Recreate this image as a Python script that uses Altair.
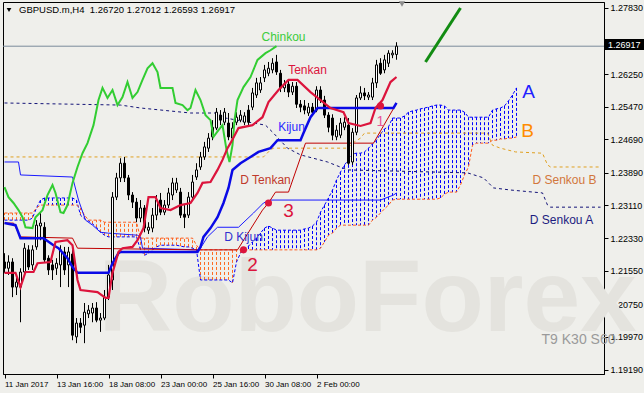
import altair as alt
import pandas as pd

# ---------------- candles (H4 bars, index 0..98) ----------------
opens = [1.2176,1.2161,1.2176,1.2116,1.2116,1.2152,1.2205,1.2169,1.2212,1.2262,
         1.2259,1.2185,1.2169,1.2161,1.2169,1.2200,1.2169,1.2195,1.1997,1.2030,
         1.2025,1.2052,1.2054,1.2066,1.2037,1.2042,1.2092,1.2133,1.2331,1.2377,
         1.2412,1.2377,1.2336,1.2319,1.2281,1.2305,1.2252,1.2257,1.2288,1.2324,
         1.2295,1.2312,1.2336,1.2348,1.2343,1.2290,1.2288,1.2331,1.2379,1.2403,
         1.2427,1.2448,1.2475,1.2496,1.2527,1.2510,1.2508,1.2472,1.2510,1.2515,
         1.2510,1.2539,1.2546,1.2575,1.2587,1.2616,1.2627,1.2635,1.2654,1.2627,
         1.2592,1.2601,1.2582,1.2596,1.2553,1.2549,1.2532,1.2546,1.2539,1.2587,
         1.2563,1.2527,1.2520,1.2475,1.2479,1.2498,1.2503,1.2415,1.2486,1.2568,
         1.2580,1.2570,1.2570,1.2604,1.2651,1.2635,1.2651,1.2671,1.26720]
highs = [1.2197,1.2192,1.2185,1.2138,1.2161,1.2221,1.2216,1.2216,1.2276,1.2293,
         1.2271,1.2192,1.2181,1.2185,1.2216,1.2212,1.2212,1.2205,1.2042,1.2042,
         1.2078,1.2073,1.2078,1.2080,1.2054,1.2109,1.2169,1.2343,1.2389,1.2424,
         1.2427,1.2384,1.2343,1.2329,1.2324,1.2312,1.2271,1.2305,1.2336,1.2341,
         1.2324,1.2353,1.2377,1.2377,1.2353,1.2312,1.2343,1.2384,1.2412,1.2439,
         1.2463,1.2484,1.2515,1.2544,1.2539,1.2544,1.2532,1.2510,1.2534,1.2539,
         1.2534,1.2551,1.2592,1.2616,1.2618,1.2647,1.2654,1.2663,1.2671,1.2635,
         1.2611,1.2611,1.2606,1.2606,1.2563,1.2563,1.2556,1.2556,1.2596,1.2596,
         1.2573,1.2534,1.2529,1.2503,1.2520,1.2522,1.2520,1.2496,1.2575,1.2596,
         1.2592,1.2582,1.2616,1.2659,1.2663,1.2671,1.2682,1.2682,1.27012]
lows = [1.2150,1.2145,1.2092,1.2097,1.2032,1.2145,1.2157,1.2157,1.2205,1.2228,
        1.2176,1.2145,1.2133,1.2145,1.2116,1.2145,1.2116,1.1989,1.1982,1.2006,
        1.1982,1.2042,1.2032,1.2032,1.2009,1.2037,1.2085,1.2109,1.2324,1.2367,
        1.2367,1.2324,1.2305,1.2271,1.2271,1.2247,1.2243,1.2247,1.2276,1.2288,
        1.2288,1.2305,1.2324,1.2341,1.2281,1.2257,1.2281,1.2324,1.2372,1.2396,
        1.2420,1.2439,1.2467,1.2491,1.2503,1.2503,1.2467,1.2451,1.2503,1.2510,
        1.2503,1.2503,1.2539,1.2568,1.2580,1.2606,1.2620,1.2627,1.2623,1.2582,
        1.2582,1.2570,1.2575,1.2544,1.2534,1.2529,1.2525,1.2527,1.2534,1.2556,
        1.2520,1.2486,1.2467,1.2467,1.2472,1.2491,1.2408,1.2408,1.2479,1.2563,
        1.2563,1.2563,1.2563,1.2592,1.2623,1.2627,1.2642,1.2663,1.26593]
closes = [1.2161,1.2176,1.2116,1.2128,1.2152,1.2209,1.2164,1.2205,1.2264,1.2269,
          1.2181,1.2157,1.2157,1.2173,1.2205,1.2157,1.2200,1.2001,1.2030,1.2020,
          1.2056,1.2061,1.2066,1.2037,1.2042,1.2092,1.2145,1.2331,1.2377,1.2412,
          1.2377,1.2336,1.2319,1.2281,1.2305,1.2257,1.2259,1.2288,1.2324,1.2295,
          1.2312,1.2341,1.2365,1.2365,1.2288,1.2283,1.2331,1.2367,1.2396,1.2427,
          1.2451,1.2472,1.2498,1.2534,1.2515,1.2534,1.2475,1.2496,1.2522,1.2527,
          1.2525,1.2510,1.2580,1.2604,1.2604,1.2635,1.2639,1.2651,1.2630,1.2592,
          1.2601,1.2582,1.2596,1.2553,1.2546,1.2539,1.2546,1.2534,1.2587,1.2563,
          1.2527,1.2498,1.2479,1.2491,1.2508,1.2510,1.2412,1.2486,1.2568,1.2580,
          1.2573,1.2575,1.2604,1.2647,1.2627,1.2659,1.2675,1.2675,1.26917]

# ---------------- Ichimoku H4 lines (vertices: bar index, price) ----------------
tenkan_i = [0,2.75,4,5.25,7.25,8.25,11.5,12.75,15.75,17,18.25,19,23.25,25.25,26,27,28.5,29.5,32,33.25,
            34.75,36,37.75,39,41.5,44,46.5,48.25,49.5,51.5,53.25,54.5,55.75,56.5,58.5,62,64.5,66,68.5,71,
            73.25,76.5,79,81.5,84.75,86,89,91.5,92.75,94.5,96.5,98]
tenkan_p = [1.2150,1.2150,1.2116,1.2152,1.2152,1.2173,1.2176,1.2224,1.2228,1.2216,1.2133,1.2109,1.2104,1.2090,1.2090,1.2150,1.2200,1.2209,1.2212,1.2228,
            1.2257,1.2331,1.2331,1.2305,1.2300,1.2312,1.2317,1.2341,1.2365,1.2367,1.2396,1.2420,1.2448,1.2460,1.2496,1.2503,1.2522,1.2558,1.2587,1.2611,
            1.2611,1.2582,1.2563,1.2544,1.2534,1.2508,1.2501,1.2508,1.2544,1.2563,1.2606,1.2618]

kijun_i = [0,2.75,4,9.75,12.25,13.5,15.75,17,18.25,26,27,28.5,29,48.25,49,49.75,51.5,53.25,54.75,56,
           57,59,61.5,63.5,66.5,68.25,74,74.75,76.5,78.25,97.25,98]
kijun_p = [1.2269,1.2264,1.2233,1.2233,1.2216,1.2209,1.2185,1.2164,1.2150,1.2150,1.2173,1.2197,1.2200,1.2200,1.2212,1.2236,1.2257,1.2283,1.2317,1.2353,
           1.2396,1.2412,1.2427,1.2439,1.2448,1.2467,1.2467,1.2484,1.2522,1.2544,1.2544,1.2556]

chinkou_i = [0,1,2.25,3.5,4.5,5.25,7,7.75,9.5,10.75,12,12.75,14,14.75,15.75,17,18.25,19.5,20.75,22.25,
             23.5,24.5,25.75,27,28.25,29.5,30.75,32,33.25,34.5,35.75,37,38.25,39,42,42.75,44.5,45.75,46.5,47.75,
             49,50.25,51.5,52.25,53.5,54.5,55.5,56.25,57,57.5,58.25,59.75,61.5,63.25,65.25,66.5,68]
chinkou_p = [1.2355,1.2331,1.2317,1.2300,1.2283,1.2259,1.2257,1.2283,1.2300,1.2336,1.2360,1.2341,1.2295,1.2293,1.2312,1.2365,1.2403,1.2436,1.2460,1.2503,
             1.2563,1.2592,1.2568,1.2587,1.2551,1.2570,1.2606,1.2568,1.2582,1.2611,1.2639,1.2651,1.2630,1.2592,1.2592,1.2556,1.2551,1.2539,1.2544,1.2587,
             1.2563,1.2527,1.2515,1.2475,1.2491,1.2503,1.2444,1.2415,1.2455,1.2515,1.2563,1.2594,1.2618,1.2659,1.2675,1.2682,1.26917]

# cloud (Senkou A / Senkou B), one value per bar 0..128
senkou_a = [1.2276,1.2276,1.2276,1.2276,1.2276,1.2276,1.2276,1.2281,1.2305,1.2324,
            1.2329,1.2329,1.2329,1.2329,1.2329,1.2329,1.2329,1.2329,1.2324,1.2288,
            1.2279,1.2274,1.2267,1.2259,1.2247,1.2240,1.2236,1.2236,1.2236,1.2236,
            1.2236,1.2236,1.2236,1.2236,1.2205,1.2192,1.2197,1.2205,1.2212,1.2216,
            1.2216,1.2216,1.2216,1.2216,1.2214,1.2212,1.2212,1.2209,1.2205,1.2133,
            1.2133,1.2133,1.2133,1.2133,1.2133,1.2133,1.2133,1.2126,1.2176,1.2197,
            1.2207,1.2214,1.2224,1.2233,1.2245,1.2257,1.2262,1.2257,1.2252,1.2252,
            1.2252,1.2252,1.2252,1.2252,1.2252,1.2255,1.2257,1.2262,1.2271,1.2295,
            1.2312,1.2329,1.2348,1.2372,1.2391,1.2408,1.2420,1.2434,1.2436,1.2436,
            1.2439,1.2448,1.2458,1.2467,1.2482,1.2494,1.2499,1.2520,1.2520,1.2520,
            1.2525,1.2534,1.2537,1.2539,1.2542,1.2544,1.2546,1.2549,1.2551,1.2551,
            1.2549,1.2539,1.2539,1.2539,1.2539,1.2534,1.2522,1.2522,1.2522,1.2522,
            1.2522,1.2522,1.2539,1.2542,1.2544,1.2549,1.2561,1.2575,1.2592]
senkou_b = [1.2293,1.2293,1.2293,1.2293,1.2293,1.2293,1.2293,1.2293,1.2305,1.2312,
            1.2312,1.2312,1.2312,1.2312,1.2312,1.2312,1.2312,1.2312,1.2312,1.2305,
            1.2288,1.2276,1.2276,1.2276,1.2276,1.2271,1.2271,1.2271,1.2271,1.2271,
            1.2271,1.2271,1.2271,1.2271,1.2233,1.2233,1.2233,1.2233,1.2233,1.2233,
            1.2233,1.2233,1.2233,1.2233,1.2233,1.2233,1.2233,1.2233,1.2216,1.2205,
            1.2205,1.2205,1.2205,1.2205,1.2205,1.2205,1.2205,1.2205,1.2205,1.2205,
            1.2205,1.2205,1.2205,1.2205,1.2205,1.2205,1.2205,1.2205,1.2205,1.2205,
            1.2205,1.2205,1.2205,1.2205,1.2205,1.2205,1.2205,1.2205,1.2205,1.2209,
            1.2224,1.2240,1.2245,1.2257,1.2264,1.2264,1.2264,1.2264,1.2264,1.2264,
            1.2264,1.2264,1.2276,1.2283,1.2293,1.2303,1.2312,1.2324,1.2326,1.2326,
            1.2326,1.2326,1.2326,1.2326,1.2326,1.2326,1.2326,1.2326,1.2326,1.2329,
            1.2338,1.2343,1.2343,1.2343,1.2360,1.2384,1.2403,1.2455,1.2460,1.2460,
            1.2460,1.2460,1.2467,1.2467,1.2470,1.2470,1.2472,1.2472,1.2475]

# ---------------- daily (D) Ichimoku lines ----------------
dtenkan_i = [0,2.25,4,17,18.25,48.25,58.25,64.5,66,67.75,71,75.25,92.25,97.75]
dtenkan_p = [1.2269,1.2269,1.2236,1.2233,1.2209,1.2205,1.2205,1.2300,1.2317,1.2343,1.2343,1.2460,1.2460,1.2551]
dkijun_i = [0,3.5,4,17,18.5,20.25,22,24,25.75,33.25,34,34.5,48.25,49,50.75,53.25,58.5,62.25,64.75,66.5,94,97.25,98]
dkijun_p = [1.2415,1.2415,1.2384,1.2379,1.2324,1.2276,1.2264,1.2247,1.2245,1.2240,1.2236,1.2209,1.2205,1.2209,1.2236,1.2259,1.2259,1.2293,1.2317,1.2324,1.2324,1.2336,1.2341]
dsa_i = [0,29,34,46.5,53.25,55.25,65.25,67.25,70.75,74,80.75,85.75,115.75,119.75,122.25,126.5,134.5,135.75,136.5,149]
dsa_p = [1.2556,1.2551,1.2544,1.2532,1.2532,1.2520,1.2503,1.2484,1.2448,1.2432,1.2415,1.2396,1.2389,1.2377,1.2353,1.2348,1.2341,1.2312,1.2307,1.2307]
dsb_i = [0,64.75,66.5,67.25,85.75,87,89,90,120.75,122,124,127.75,134.5,135.75,136.5,149]
dsb_p = [1.2427,1.2427,1.2444,1.2448,1.2448,1.2460,1.2472,1.2484,1.2484,1.2455,1.2448,1.2439,1.2436,1.2408,1.2403,1.2403]

# ---------------- axis ticks ----------------
x_ticks = [0, 13, 26, 39, 52, 65, 78]
x_labels = ["11 Jan 2017", "13 Jan 16:00", "18 Jan 08:00", "23 Jan 00:00",
            "25 Jan 16:00", "30 Jan 08:00", "2 Feb 00:00"]
y_ticks = [1.19190, 1.19970, 1.20750, 1.21550, 1.22330, 1.23110,
           1.23890, 1.24690, 1.25470, 1.26250, 1.27030, 1.27830]
last_price = 1.26917

# annotation labels: (bar index, price, text, colour, size)
ann_i = [69.75, 75.75, 71.75, 65.25, 59.75, 71, 62, 94, 131, 130.75, 140, 139.25, 143.5]
ann_p = [1.2714, 1.2635, 1.2498, 1.2372, 1.2236, 1.2298, 1.2169, 1.2510, 1.2582, 1.2489, 1.2372, 1.2276, 1.1989]
ann_t = ["Chinkou", "Tenkan", "Kijun", "D Tenkan", "D Kijun", "3", "2", "1", "A", "B",
         "D Senkou B", "D Senkou A", "T9 K30 S60"]
ann_c = ["#3ccc3c", "#dc143c", "#2a2aff", "#c0392b", "#3030d0", "#dc143c", "#dc143c", "#e8559a",
         "#2020ff", "#ff8c00", "#d2773c", "#1c1c80", "#9a9a9a"]
ann_s = [12, 12, 12, 12, 12, 19, 19, 14, 19, 19, 12, 12, 14]
dot_i = [94, 66, 59.75]
dot_p = [1.2549, 1.2317, 1.2205]
arrow_i = [105.25, 114]
arrow_p = [1.2654, 1.2783]

# ---------------- build ----------------
W, H = 601, 372
xs = alt.Scale(domain=[-0.375, 149.875], nice=False, zero=False)
ys = alt.Scale(domain=[1.19083, 1.27973], nice=False, zero=False)
FONT = "Liberation Sans"
label_expr = " : ".join(f"datum.value == {v} ? '{t}'" for v, t in zip(x_ticks, x_labels)) + " : ''"
XAX = alt.Axis(values=x_ticks, labelExpr=label_expr, title=None, grid=False, labelAlign="left",
               labelPadding=2, tickSize=4, labelFontSize=8, labelFont=FONT, labelColor="#000000",
               domainColor="#000000", tickColor="#000000", labelOverlap=False, labelFlush=False)
YAX = alt.Axis(values=y_ticks, format=".5f", title=None, grid=False, orient="right", labelPadding=2,
               tickSize=4, labelFontSize=9, labelFont=FONT, labelColor="#000000",
               domainColor="#000000", tickColor="#000000", labelOverlap=False, labelFlush=False)


def X(f):
    return alt.X(f"{f}:Q", scale=xs, axis=XAX)


def Y(f):
    return alt.Y(f"{f}:Q", scale=ys, axis=YAX)


n = len(closes)
candles = pd.DataFrame({
    "i": list(range(n)), "o": opens, "h": highs, "l": lows, "c": closes,
})
candles["x0"] = candles["i"] - 0.25
candles["x1"] = candles["i"] + 0.25
candles["fill"] = ["#ffffff" if c >= o else "#000000" for o, c in zip(opens, closes)]

cloud = pd.DataFrame({"i": list(range(len(senkou_a))), "a": senkou_a, "b": senkou_b})
cloud["col"] = ["#0000ff" if a >= b else "#ff6a20" for a, b in zip(senkou_a, senkou_b)]


def line_df(xi, yp):
    return pd.DataFrame({"i": xi, "p": yp})


one = pd.DataFrame({"k": [0]})

watermark = alt.Chart(pd.DataFrame({"i": [23.5], "p": [1.2010], "t": ["RoboForex"]})).mark_text(
    align="left", baseline="alphabetic", fontSize=102, fontWeight="bold", font=FONT, color="#e4e3de"
).encode(x=X("i"), y=Y("p"), text="t:N")

hatch = alt.Chart(cloud).mark_rule(strokeWidth=1, strokeDash=[3, 2]).encode(
    x=X("i"), y=Y("a"), y2=alt.Y2("b"), color=alt.Color("col:N", scale=None))
sa_line = alt.Chart(cloud).mark_line(strokeWidth=1, strokeDash=[3, 2], color="#0000ff").encode(x=X("i"), y=Y("a"))
sb_line = alt.Chart(cloud).mark_line(strokeWidth=1, strokeDash=[3, 2], color="#ff5a1a").encode(x=X("i"), y=Y("b"))

dsa = alt.Chart(line_df(dsa_i, dsa_p)).mark_line(strokeWidth=1, strokeDash=[3, 3], color="#141478").encode(x=X("i"), y=Y("p"))
dsb = alt.Chart(line_df(dsb_i, dsb_p)).mark_line(strokeWidth=1, strokeDash=[3, 3], color="#e0a020").encode(x=X("i"), y=Y("p"))
dkij = alt.Chart(line_df(dkijun_i, dkijun_p)).mark_line(strokeWidth=1, color="#1a1aff").encode(x=X("i"), y=Y("p"))
dten = alt.Chart(line_df(dtenkan_i, dtenkan_p)).mark_line(strokeWidth=1, color="#c00000").encode(x=X("i"), y=Y("p"))

price_line = alt.Chart(pd.DataFrame({"p": [last_price]})).mark_rule(color="#7a8a9a", strokeWidth=1).encode(y=Y("p"))

wicks = alt.Chart(candles).mark_rule(color="#000000", strokeWidth=1).encode(x=X("i"), y=Y("l"), y2=alt.Y2("h"))
bodies = alt.Chart(candles).mark_rect(stroke="#000000", strokeWidth=1).encode(
    x=X("x0"), x2=alt.X2("x1"), y=Y("o"), y2=alt.Y2("c"), fill=alt.Fill("fill:N", scale=None))

chink = alt.Chart(line_df(chinkou_i, chinkou_p)).mark_line(strokeWidth=2, color="#32cd32").encode(x=X("i"), y=Y("p"))
kij = alt.Chart(line_df(kijun_i, kijun_p)).mark_line(strokeWidth=2.5, color="#0a0ae6").encode(x=X("i"), y=Y("p"))
ten = alt.Chart(line_df(tenkan_i, tenkan_p)).mark_line(strokeWidth=2.2, color="#dc143c").encode(x=X("i"), y=Y("p"))

arrow = alt.Chart(line_df(arrow_i, arrow_p)).mark_line(strokeWidth=3, color="#128c12").encode(x=X("i"), y=Y("p"))
dots = alt.Chart(line_df(dot_i, dot_p)).mark_circle(size=50, opacity=1, color="#dc143c").encode(x=X("i"), y=Y("p"))

ann = alt.Chart(pd.DataFrame({"i": ann_i, "p": ann_p, "t": ann_t, "c": ann_c, "s": ann_s})).mark_text(
    align="center", baseline="middle", font=FONT).encode(
    x=X("i"), y=Y("p"), text="t:N", color=alt.Color("c:N", scale=None), size=alt.Size("s:Q", scale=None))

title_txt = alt.Chart(one).mark_text(align="left", baseline="middle", font=FONT, fontSize=9.5, color="#000000").encode(
    x=alt.value(16), y=alt.value(8),
    text=alt.value("GBPUSD.m,H4\u00a0\u00a01.26720 1.27012 1.26593 1.26917"))
title_tri = alt.Chart(one).mark_point(shape="triangle-down", filled=True, size=22, color="#000000", opacity=1).encode(
    x=alt.value(6), y=alt.value(8))
shift_tri = alt.Chart(one).mark_point(shape="triangle-down", filled=True, size=40, color="#8c8c8c", opacity=1).encode(
    x=alt.value(399), y=alt.value(2))
tag = alt.Chart(one).mark_rect(color="#000000").encode(
    x=alt.value(602), x2=alt.value(642), y=alt.value(37), y2=alt.value(48))
tag_txt = alt.Chart(one).mark_text(align="left", baseline="middle", font=FONT, fontSize=9, color="#ffffff").encode(
    x=alt.value(605), y=alt.value(43), text=alt.value(f"{last_price:.5f}"))

chart = alt.layer(
    watermark, hatch, sa_line, sb_line, dsa, dsb, dkij, dten, price_line,
    wicks, bodies, chink, kij, ten, arrow, dots, ann,
    title_txt, title_tri, shift_tri, tag, tag_txt
).properties(
    width=W, height=H, autosize="none",
    padding={"left": 3, "top": 2, "right": 40, "bottom": 19},
    background="#efefeb",
).configure_view(stroke="#000000", strokeWidth=1)

chart.save("out.html", embed_options={"renderer": "svg", "actions": False})
